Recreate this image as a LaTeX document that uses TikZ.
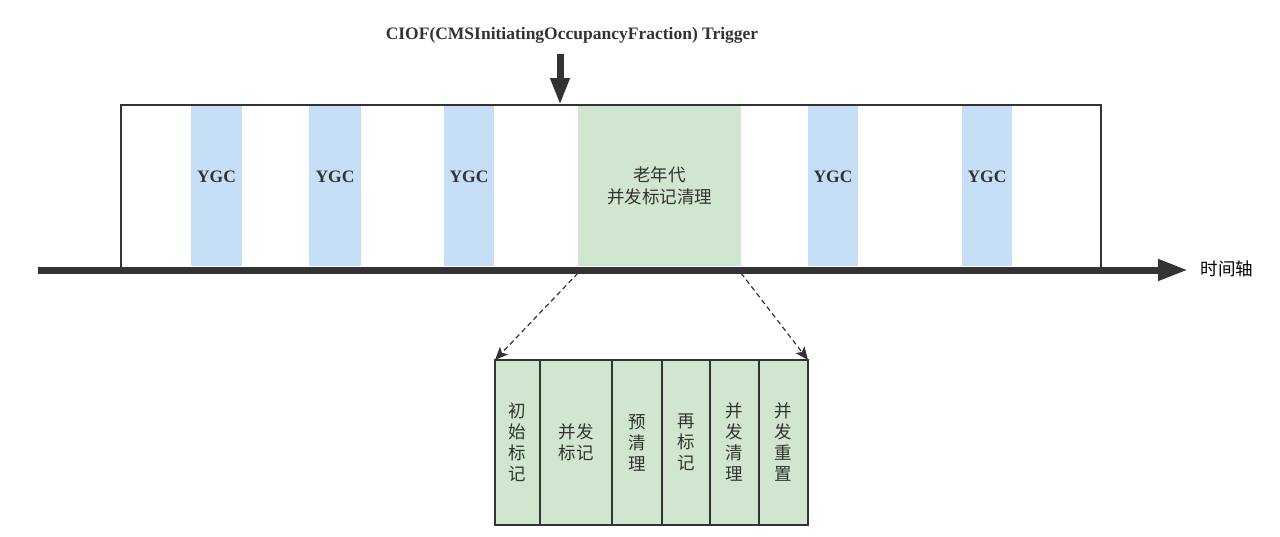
\documentclass[tikz,border=0pt]{standalone}
\usepackage{fontspec}
\setmainfont{Liberation Serif}
\newfontfamily\cjk{Noto Sans CJK SC}
\usetikzlibrary{arrows.meta}
\definecolor{ygcblue}{RGB}{198,223,247}
\definecolor{oldgreen}{RGB}{209,230,206}
\definecolor{darkline}{RGB}{51,51,51}
\newcommand{\ygctext}{\raisebox{17pt}{YGC}}
\begin{document}
\begin{tikzpicture}[x=1pt,y=-1pt,
  ygc/.style={rectangle,fill=ygcblue,draw=none,inner sep=0pt,outer sep=0pt,anchor=north west,minimum height=161pt,font=\fontsize{17.5}{21}\selectfont\bfseries,text=darkline},
  oldgen/.style={rectangle,fill=oldgreen,draw=none,inner sep=0pt,outer sep=0pt,anchor=north west,minimum height=161pt,font=\cjk\fontsize{17.5}{22}\selectfont,text=darkline,align=center},
  phase/.style={rectangle,fill=oldgreen,draw=darkline,line width=1.3pt,inner sep=0pt,outer sep=0pt,anchor=north west,minimum height=165pt,font=\cjk\fontsize{17.5}{21}\selectfont,text=darkline,align=center},
  frameline/.style={draw=darkline,line width=1.2pt},
  zoomarrow/.style={draw=darkline,line width=1.2pt,dash pattern=on 5pt off 3.5pt,-{Stealth[length=13pt,width=11pt,inset=3pt]}},
  bigarrow/.style={draw=darkline,line width=7pt,-{Triangle[length=30pt,width=20pt]}}
]
\useasboundingbox (0,0) rectangle (1280,536);
\fill[white] (0,0) rectangle (1280,536);

% frame
\coordinate (fbl) at (121,267);
\coordinate (ftl) at (121,105);
\coordinate (ftr) at (1101,105);
\coordinate (fbr) at (1101,267);

% YGC and old gen boxes
\node[ygc,minimum width=51pt] (y1) at (191,105) {\ygctext};
\node[ygc,minimum width=52pt] (y2) at (309,105) {\ygctext};
\node[ygc,minimum width=50pt] (y3) at (444,105) {\ygctext};
\node[oldgen,minimum width=163pt] (old) at (578,105) {老年代\\并发标记清理};
\node[ygc,minimum width=50pt] (y4) at (808,105) {\ygctext};
\node[ygc,minimum width=50pt] (y5) at (962,105) {\ygctext};

\draw[frameline] (fbl) -- (ftl) -- (ftr) -- (fbr);

% trigger
\node[font=\fontsize{17.5}{21}\selectfont\bfseries,text=darkline] (trig) at (572,35) {CIOF(CMSInitiatingOccupancyFraction) Trigger};
\coordinate (trs) at (560,54);
\coordinate (tre) at (560,105);
\draw[draw=darkline,line width=7pt,-{Triangle[length=27pt,width=18pt]}] (trs) -- (tre);

% time axis
\coordinate (axs) at (38,270);
\coordinate (axe) at (1188,270);
\draw[bigarrow] (axs) -- (axe);
\node[font=\cjk\fontsize{17.5}{21}\selectfont,text=black,anchor=west] (tl) at (1197,269) {时间轴};

% phases
\node[phase,minimum width=45pt] (p1) at (495,360) {初\\始\\标\\记};
\node[phase,minimum width=72pt] (p2) at (p1.north east) {并发\\标记};
\node[phase,minimum width=50pt] (p3) at (p2.north east) {预\\清\\理};
\node[phase,minimum width=48pt] (p4) at (p3.north east) {再\\标\\记};
\node[phase,minimum width=49pt] (p5) at (p4.north east) {并\\发\\清\\理};
\node[phase,minimum width=49pt] (p6) at (p5.north east) {并\\发\\重\\置};

\draw[zoomarrow] ([yshift=-7pt]old.south west) -- (p1.north west);
\draw[zoomarrow] ([yshift=-7pt]old.south east) -- (p6.north east);
\end{tikzpicture}
\end{document}
